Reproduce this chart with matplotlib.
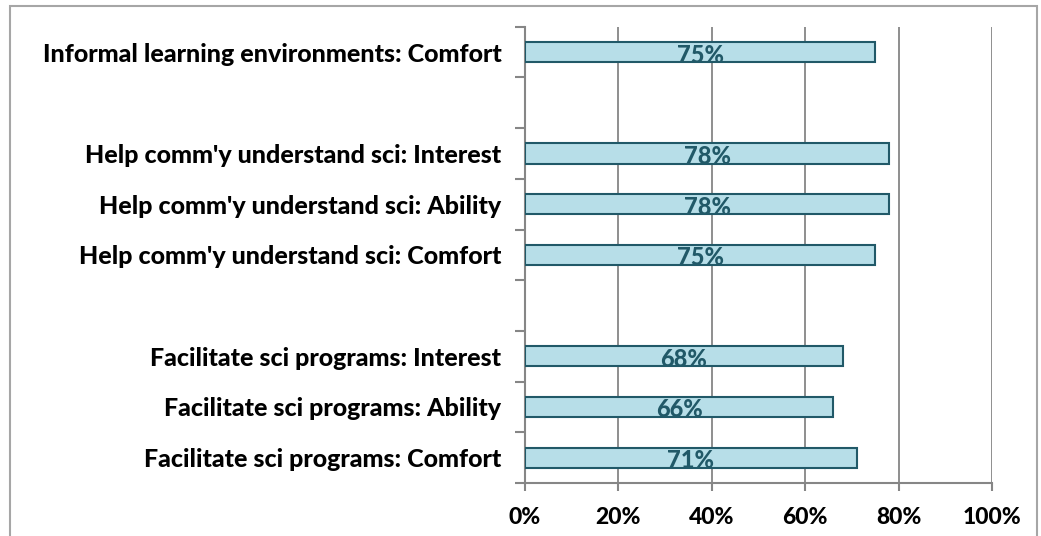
import matplotlib
matplotlib.use("Agg")
import matplotlib.pyplot as plt
import numpy as np
from matplotlib.patches import Rectangle

categories = [
    "Informal learning environments: Comfort",
    "",
    "Help comm'y understand sci: Interest",
    "Help comm'y understand sci: Ability",
    "Help comm'y understand sci: Comfort",
    "",
    "Facilitate sci programs: Interest",
    "Facilitate sci programs: Ability",
    "Facilitate sci programs: Comfort",
]
values = [75, None, 78, 78, 75, None, 68, 66, 71]
x_ticks = [0, 20, 40, 60, 80, 100]
x_tick_labels = ["0%", "20%", "40%", "60%", "80%", "100%"]

FONT = "Lato"
WEIGHT = 900
W, H = 1041, 536
fig = plt.figure(figsize=(W / 100, H / 100), dpi=100)
ax = fig.add_axes([525 / W, 1 - 483 / H, (992 - 525) / W, (483 - 26.7) / H])

pos = np.arange(len(categories))
for p, v in zip(pos, values):
    if v is None:
        continue
    ax.barh(p, v, height=0.4, color="#B7DEE8", edgecolor="#215968", linewidth=1.5, zorder=3)
    ax.text(v / 2, p + 0.06, f"{v}%", ha="center", va="center", fontsize=17,
            fontweight=WEIGHT, color="#215968", family=FONT, zorder=4)

ax.set_xlim(0, 100)
ax.set_ylim(len(categories) - 0.5, -0.5)
ax.set_xticks(x_ticks)
ax.set_xticklabels(x_tick_labels, fontsize=16.5, fontweight=WEIGHT, family=FONT)
ax.set_yticks(np.arange(-0.5, len(categories), 1.0))
ax.set_yticklabels([])
ax.set_yticks(pos, minor=True)
ax.set_yticklabels(categories, minor=True, fontsize=18, fontweight=WEIGHT, family=FONT)
ax.tick_params(axis="y", which="minor", length=0, pad=17)
ax.tick_params(axis="y", which="major", length=7, width=1.5, color="#868686", direction="out")
ax.tick_params(axis="x", which="major", length=6, width=1.5, color="#868686", direction="out", pad=11)

ax.grid(axis="x", color="#868686", linewidth=1.3, zorder=0)
ax.set_axisbelow(True)
for s in ["top", "right"]:
    ax.spines[s].set_visible(False)
for s in ["left", "bottom"]:
    ax.spines[s].set_color("#868686")
    ax.spines[s].set_linewidth(1.5)

fig.patches.append(Rectangle((10 / W, -0.1), (1037 - 10) / W, 1.1 - 6 / H,
                             transform=fig.transFigure, fill=False,
                             edgecolor="#A6A6A6", linewidth=1.5))

fig.savefig("out.png", dpi=100)
